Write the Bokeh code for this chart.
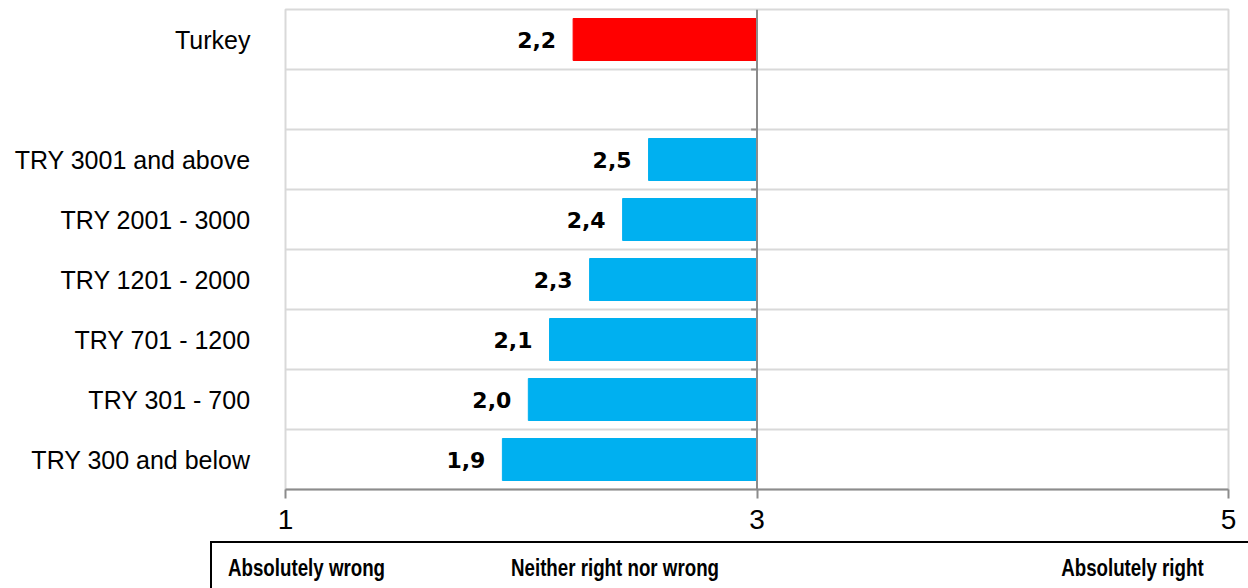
from bokeh.plotting import figure
from bokeh.layouts import column
from bokeh.models import Range1d, FixedTicker, Span, ColumnDataSource, Div
from bokeh.core.properties import value
from bokeh.embed import file_html
from bokeh.resources import INLINE

# ---- data (top to bottom) ----
categories = ["Turkey", "", "TRY 3001 and above", "TRY 2001 - 3000", "TRY 1201 - 2000",
              "TRY 701 - 1200", "TRY 301 - 700", "TRY 300 and below"]
scores = [2.22, None, 2.54, 2.43, 2.29, 2.12, 2.03, 1.92]
bar_colors = ["#ff0000", None, "#00b0f0", "#00b0f0", "#00b0f0", "#00b0f0", "#00b0f0", "#00b0f0"]
x_ticks = [1, 3, 5]
scale_labels = ["Absolutely wrong", "Neither right nor wrong", "Absolutely right"]
midpoint = 3

n = len(categories)
centers = [n - i - 0.5 for i in range(n)]

rows = [i for i, v in enumerate(scores) if v is not None]
src = ColumnDataSource(dict(
    y=[centers[i] for i in rows],
    left=[scores[i] for i in rows],
    right=[midpoint for _ in rows],
    color=[bar_colors[i] for i in rows],
    label=[f"{scores[i]:.1f}".replace(".", ",") for i in rows],
))

p = figure(width=1248, height=541, x_range=Range1d(1, 5), y_range=Range1d(0, n),
           output_backend="svg", toolbar_location=None,
           min_border_left=285, min_border_right=20, min_border_top=9, min_border_bottom=52)
p.background_fill_color = "white"
p.border_fill_color = "white"
p.outline_line_color = "#d9d9d9"
p.outline_line_width = 2

p.hbar(y="y", left="left", right="right", height=0.7, color="color", source=src)
p.text(x="left", y="y", text="label", source=src, text_align="right", text_baseline="middle",
       x_offset=-17, text_font=value("DejaVu Sans"), text_font_style="bold",
       text_font_size="22px", text_color="black")

# vertical reference line at midpoint
p.add_layout(Span(location=midpoint, dimension="height", line_color="#8c8c8c", line_width=2))
# small ticks on the midpoint axis at row boundaries
p.segment(x0=[midpoint - 0.025] * (n - 1), x1=[midpoint] * (n - 1),
          y0=list(range(1, n)), y1=list(range(1, n)), line_color="#8c8c8c", line_width=2)

# grid
p.xgrid.grid_line_color = None
p.ygrid.ticker = FixedTicker(ticks=list(range(1, n)))
p.ygrid.grid_line_color = "#d9d9d9"
p.ygrid.grid_line_width = 2

# x axis
p.xaxis.ticker = FixedTicker(ticks=x_ticks)
p.xaxis.axis_line_color = "#8c8c8c"
p.xaxis.axis_line_width = 2
p.xaxis.major_tick_line_color = "#8c8c8c"
p.xaxis.major_tick_line_width = 2
p.xaxis.major_tick_out = 9
p.xaxis.major_tick_in = 0
p.xaxis.minor_tick_line_color = None
p.xaxis.major_label_text_font = "Liberation Sans"
p.xaxis.major_label_text_font_size = "28px"
p.xaxis.major_label_text_color = "black"
p.xaxis.major_label_standoff = 11

# y axis (category labels)
p.yaxis.ticker = FixedTicker(ticks=centers)
p.yaxis.major_label_overrides = {c: lab for c, lab in zip(centers, categories)}
p.yaxis.axis_line_color = None
p.yaxis.major_tick_line_color = None
p.yaxis.minor_tick_line_color = None
p.yaxis.major_tick_out = 0
p.yaxis.major_label_standoff = 35
p.yaxis.major_label_text_font = "Liberation Sans"
p.yaxis.major_label_text_font_size = "25px"
p.yaxis.major_label_text_color = "black"

# ---- scale legend box below the chart ----
span_base = ("position:absolute; top:11px; line-height:28px; white-space:nowrap; "
             "font-family:'Liberation Sans', Arial, sans-serif; font-weight:bold; "
             "font-size:24px; color:black;")
html = (
    '<div style="position:relative; width:1038px; height:47px; box-sizing:border-box; '
    'border-top:2px solid black; border-left:2px solid black; background:white;">'
    f'<span style="{span_base} left:16px; transform:scaleX(0.78); transform-origin:left center;">{scale_labels[0]}</span>'
    f'<span style="{span_base} left:299px; transform:scaleX(0.78); transform-origin:left center;">{scale_labels[1]}</span>'
    f'<span style="{span_base} right:44px; transform:scaleX(0.78); transform-origin:right center;">{scale_labels[2]}</span>'
    '</div>'
)
box = Div(text=html, width=1038, height=47, margin=(0, 0, 0, 210))

layout = column(p, box, spacing=0)
open("out.html", "w").write(file_html(layout, INLINE))
